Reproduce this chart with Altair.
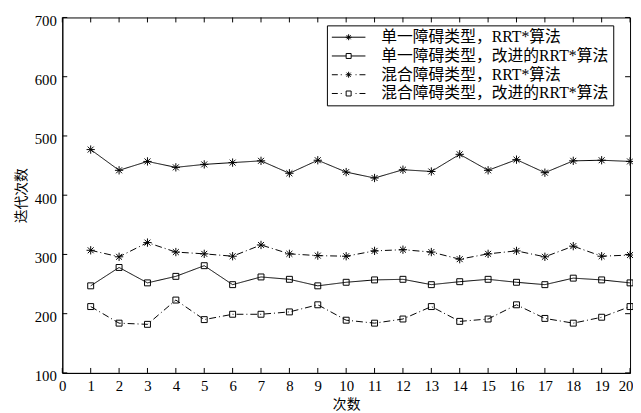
import altair as alt
import pandas as pd

# ---- data ----
runs = list(range(1, 21))
single_rrt = [477, 442, 457, 447, 452, 455, 458, 437, 459, 439,
              429, 443, 440, 469, 442, 460, 438, 458, 459, 457]
single_improved = [247, 278, 252, 263, 281, 249, 262, 258, 247, 253,
                   257, 258, 249, 254, 258, 253, 249, 260, 257, 252]
mixed_rrt = [307, 296, 320, 304, 301, 297, 316, 301, 298, 297,
             306, 308, 304, 292, 301, 306, 296, 314, 297, 299]
mixed_improved = [212, 184, 182, 223, 190, 199, 199, 203, 215, 189,
                  184, 191, 212, 187, 191, 215, 192, 184, 194, 212]
series_names = ["单一障碍类型，RRT*算法", "单一障碍类型，改进的RRT*算法",
                "混合障碍类型，RRT*算法", "混合障碍类型，改进的RRT*算法"]
x_ticks = list(range(0, 21))
y_ticks = [100, 200, 300, 400, 500, 600, 700]
x_title = "次数"
y_title = "迭代次数"

rows = []
for name, vals in zip(series_names, [single_rrt, single_improved, mixed_rrt, mixed_improved]):
    for r, v in zip(runs, vals):
        rows.append({"run": r, "value": v, "series": name})
df = pd.DataFrame(rows)
dfx = pd.DataFrame({"run": x_ticks})
dfy = pd.DataFrame({"value": y_ticks})

W, H = 575, 360
SERIF = "Liberation Serif, Times New Roman, serif"
CJK = "Noto Sans CJK SC"
MIXED = "Liberation Serif, Noto Sans CJK SC, serif"

xscale = alt.Scale(domain=[0, 20], nice=False, zero=False)
yscale = alt.Scale(domain=[100, 700], nice=False, zero=False)
xaxis = alt.Axis(values=x_ticks, title=x_title, format="d", ticks=False, grid=False,
                 labelPadding=6, titlePadding=4, labelFlush=False,
                 labelAlign=alt.expr("datum.value == 20 ? 'right' : 'center'"),
                 labelOffset=alt.expr("datum.value == 20 ? 3 : 0"))
yaxis = alt.Axis(values=y_ticks, title=y_title, format="d", ticks=False, grid=False,
                 labelPadding=6, titlePadding=6, labelOffset=3, labelFlush=False)
X = alt.X("run:Q", scale=xscale, axis=xaxis)
Y = alt.Y("value:Q", scale=yscale, axis=yaxis)

ASTER = "M-1.4,0H1.4M0,-1.4V1.4M-1,-1L1,1M-1,1L1,-1"

# legend symbols (line + marker), unit = 7px
L_AST = "M-0.43,0H0.43M0,-0.43V0.43M-0.3,-0.3L0.3,0.3M-0.3,0.3L0.3,-0.3"
L_SQ = "M-0.36,-0.36H0.36V0.36H-0.36Z"
L_SOLID_A = "M-2.43,0H2.43" + L_AST
L_SOLID_S = "M-2.43,0H-0.36M0.36,0H2.43" + L_SQ
L_DD = "M-2.43,0H-1.57M-1.14,0H-1.0M1.0,0H1.14M1.57,0H2.43"
legend_paths = [L_SOLID_A, L_SOLID_S, L_DD + L_AST, L_DD + L_SQ]

lines = alt.Chart(df).mark_line(color="black", strokeWidth=1).encode(
    x=X, y=Y,
    strokeDash=alt.StrokeDash("series:N", scale=alt.Scale(
        domain=series_names, range=[[1, 0], [1, 0], [7, 3, 1, 3], [7, 3, 1, 3]]), legend=None),
    detail="series:N",
)

points = alt.Chart(df).mark_point(color="black", filled=False, strokeWidth=1, size=36, opacity=1).encode(
    x=X, y=Y,
    shape=alt.Shape("series:N", scale=alt.Scale(
        domain=series_names, range=[ASTER, "square", ASTER, "square"]), legend=None),
)

legend_layer = alt.Chart(df).transform_filter("false").mark_point(
    color="black", filled=False, strokeWidth=1, opacity=1).encode(
    x=X, y=Y,
    shape=alt.Shape("series:N", scale=alt.Scale(domain=series_names, range=legend_paths),
                    legend=alt.Legend(title=None, orient="none", legendX=268, legendY=8,
                                      strokeColor="black", fillColor="white", padding=4,
                                      symbolSize=196, symbolStrokeWidth=1, symbolStrokeColor="black",
                                      symbolOffset=10, labelOffset=25, rowPadding=3,
                                      labelFont=MIXED, labelFontSize=16, labelColor="black",
                                      labelLimit=400)),
)

tick_len = 5
bottom_ticks = alt.Chart(dfx).mark_rule(color="black", strokeWidth=1).encode(
    x=X, y=alt.value(H), y2=alt.value(H - tick_len))
top_ticks = alt.Chart(dfx).mark_rule(color="black", strokeWidth=1).encode(
    x=X, y=alt.value(0), y2=alt.value(tick_len))
left_ticks = alt.Chart(dfy).mark_rule(color="black", strokeWidth=1).encode(
    y=Y, x=alt.value(0), x2=alt.value(tick_len))
right_ticks = alt.Chart(dfy).mark_rule(color="black", strokeWidth=1).encode(
    y=Y, x=alt.value(W), x2=alt.value(W - tick_len))

chart = alt.layer(
    lines, points, legend_layer, bottom_ticks, top_ticks, left_ticks, right_ticks
).resolve_scale(
    shape="independent", strokeDash="independent"
).properties(
    width=W, height=H,
    autosize=alt.AutoSizeParams(type="none"),
    padding={"left": 55, "top": 7, "right": 3, "bottom": 38},
    background="white",
).configure_view(
    stroke="black", strokeWidth=1
).configure_axis(
    labelFont=SERIF, labelFontSize=15, labelColor="black",
    titleFont=CJK, titleFontSize=14, titleColor="black", titleFontWeight="normal",
    domainColor="black", domainWidth=1,
)

chart.save("out.html", embed_options={"renderer": "svg", "actions": False})
